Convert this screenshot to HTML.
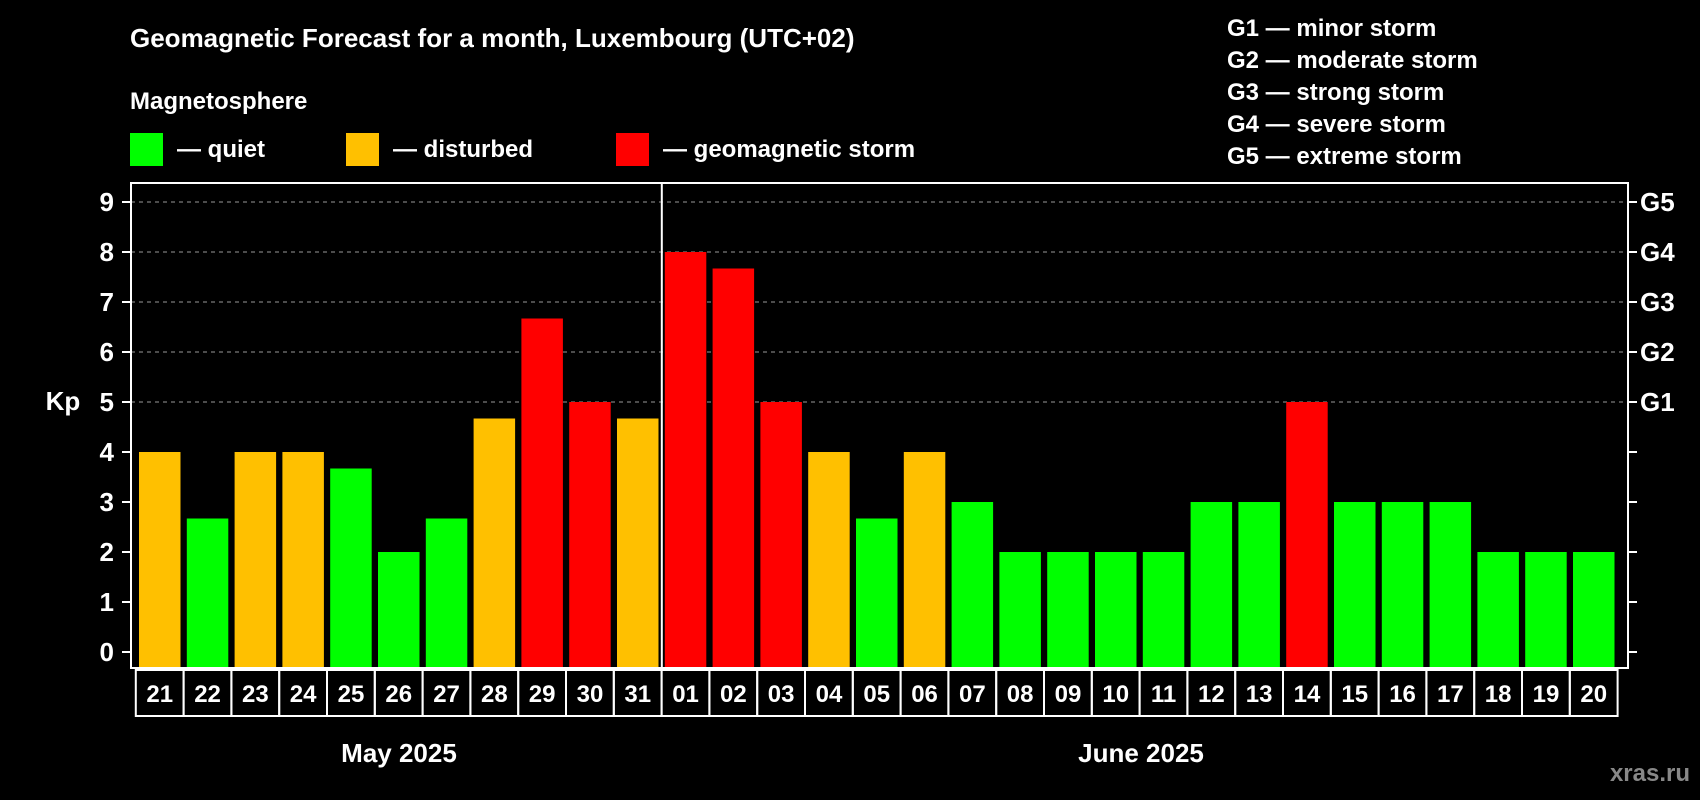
<!DOCTYPE html>
<html><head><meta charset="utf-8"><style>
html,body{margin:0;padding:0;background:#000;}
svg{display:block;font-family:"Liberation Sans",Arial,sans-serif;font-weight:bold;}
</style></head><body>
<svg id="chart" width="1700" height="800" viewBox="0 0 1700 800">
<rect width="1700" height="800" fill="#000"/>
<text x="130" y="47" fill="#fff" font-size="26">Geomagnetic Forecast for a month, Luxembourg (UTC+02)</text>
<text x="130" y="109" fill="#fff" font-size="24">Magnetosphere</text>
<g><rect x="130" y="133" width="33" height="33" fill="#00ff00"/><text x="177" y="157" fill="#fff" font-size="24">— quiet</text></g>
<g><rect x="346" y="133" width="33" height="33" fill="#ffc000"/><text x="393" y="157" fill="#fff" font-size="24">— disturbed</text></g>
<g><rect x="616" y="133" width="33" height="33" fill="#ff0000"/><text x="663" y="157" fill="#fff" font-size="24">— geomagnetic storm</text></g>
<g fill="#fff" font-size="24">
<text x="1227" y="36">G1 — minor storm</text>
<text x="1227" y="68">G2 — moderate storm</text>
<text x="1227" y="100">G3 — strong storm</text>
<text x="1227" y="132">G4 — severe storm</text>
<text x="1227" y="164">G5 — extreme storm</text>
</g>
<text x="63" y="410" fill="#fff" font-size="26" text-anchor="middle">Kp</text>
<g id="grid"></g><g id="bars"></g><g id="axes"></g>
<text x="399" y="762" fill="#fff" font-size="26" text-anchor="middle">May 2025</text>
<text x="1141" y="762" fill="#fff" font-size="26" text-anchor="middle">June 2025</text>
<text x="1690" y="781" fill="#888" font-size="24" text-anchor="end">xras.ru</text>
</svg>
<script>
const days = ["21","22","23","24","25","26","27","28","29","30","31","01","02","03","04","05","06","07","08","09","10","11","12","13","14","15","16","17","18","19","20"];
const kpValues = [4,2.67,4,4,3.67,2,2.67,4.67,6.67,5,4.67,8,7.67,5,4,2.67,4,3,2,2,2,2,3,3,5,3,3,3,2,2,2];
const yTicks = [0,1,2,3,4,5,6,7,8,9];
const gLabels = ["G1","G2","G3","G4","G5"];
const NS="http://www.w3.org/2000/svg";
const L=131,R=1628,T=183,B=668;
const y=v=>652-v*50;
const x=i=>139+i*47.8;
const BW=41.5;
function mk(tag,attrs,parent){const e=document.createElementNS(NS,tag);for(const k in attrs)e.setAttribute(k,attrs[k]);parent.appendChild(e);return e;}
const grid=document.getElementById('grid'),bars=document.getElementById('bars'),axes=document.getElementById('axes');
yTicks.forEach(v=>{
  if(v>=5){const g=mk('line',{x1:L,x2:R,y1:y(v),y2:y(v),stroke:'#999','stroke-width':1,'stroke-dasharray':'4 4'},grid);
  
  }
  const t=mk('line',{x1:L-9,x2:L,y1:y(v),y2:y(v),stroke:'#fff','stroke-width':2},axes);
  
  
  const t2=mk('line',{x1:R,x2:R+9,y1:y(v),y2:y(v),stroke:'#fff','stroke-width':2},axes);
  
  
  const lb=mk('text',{x:L-17,y:y(v)+9,fill:'#fff','font-size':26,'text-anchor':'end'},axes);
  lb.textContent=v;
  
  
});
gLabels.forEach((g,i)=>{
  const lb=mk('text',{x:R+12,y:y(5+i)+9,fill:'#fff','font-size':26},axes);
  lb.textContent=g;
  
  
});
function col(v){return v>=5?'#ff0000':(v>=4?'#ffc000':'#00ff00');}
kpValues.forEach((v,i)=>{
  const r=mk('rect',{x:x(i),y:y(v),width:BW,height:B-y(v),fill:col(v)},bars);
  
  
  const c=mk('rect',{x:x(i)-3.2,y:B+2,width:47.8,height:46,fill:'none',stroke:'#fff','stroke-width':2},axes);
  
  
  const t=mk('text',{x:x(i)+BW/2,y:B+34,fill:'#fff','font-size':24,'text-anchor':'middle'},axes);
  t.textContent=days[i];
  
  
});
const fr=mk('rect',{x:L,y:T,width:R-L,height:B-T,fill:'none',stroke:'#fff','stroke-width':2},axes);


const sx=x(11)-3;
const sep=mk('line',{x1:sx,x2:sx,y1:T,y2:B,stroke:'#fff','stroke-width':2},axes);


</script>
</body></html>
